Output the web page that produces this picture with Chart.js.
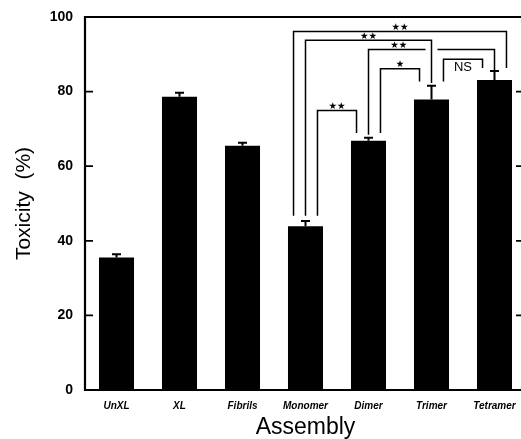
<!DOCTYPE html>
<html>
<head>
<meta charset="utf-8">
<script src="https://cdn.jsdelivr.net/npm/chart.js@4/dist/chart.umd.min.js"></script>
<style>
  html, body { margin: 0; padding: 0; background: #fff; }
  #wrap { width: 521px; height: 439px; overflow: hidden; }
</style>
</head>
<body>
<div id="wrap">
  <canvas id="toxChart" width="530" height="439"></canvas>
</div>
<script>
// data
var categories = ['UnXL', 'XL', 'Fibrils', 'Monomer', 'Dimer', 'Trimer', 'Tetramer'];
var toxicity = [35.5, 78.6, 65.5, 43.9, 66.8, 77.9, 83.1];
var toxicityErr = [0.9, 1.1, 0.8, 1.4, 0.8, 3.7, 2.4];
var yTicks = [0, 20, 40, 60, 80, 100];

// significance brackets: category indices, leg side (-1 left, 0 centre, +1 right), heights in %
var comparisons = [
  { from: 3, to: 6, fromSide: -1, toSide: 1, top: 96.1, fromEnd: 46.7, toEnd: 86.3, label: '★★' },
  { from: 3, to: 5, fromSide: 0, toSide: 0, top: 93.8, fromEnd: 46.7, toEnd: 82.3, label: '★★' },
  { from: 4, to: 6, fromSide: 0, toSide: 0, top: 91.3, fromEnd: 68.4, toEnd: 85.8, label: '★★', labelAt: 4.48, gapAt: 5 },
  { from: 4, to: 5, fromSide: 1, toSide: -1, top: 86.1, fromEnd: 68.9, toEnd: 82.7, label: '★' },
  { from: 5, to: 6, fromSide: 1, toSide: -1, top: 88.7, fromEnd: 82.7, toEnd: 86.3, label: 'NS', inside: true },
  { from: 3, to: 4, fromSide: 1, toSide: -1, top: 74.9, fromEnd: 46.7, toEnd: 68.9, label: '★★' }
];

var FONT = '"Liberation Sans", Arial, Helvetica, sans-serif';

var extras = {
  id: 'extras',
  afterDatasetsDraw: function (chart) {
    var ctx = chart.ctx;
    var xs = chart.scales.x, ys = chart.scales.y;
    var area = chart.chartArea;
    var catW = xs.getPixelForValue(1) - xs.getPixelForValue(0);
    var legOff = catW * 0.19;
    ctx.save();
    ctx.strokeStyle = '#000';
    ctx.fillStyle = '#000';

    // error bars (upper half only shows above black bars)
    ctx.lineWidth = 2;
    var meta = chart.getDatasetMeta(0);
    toxicity.forEach(function (v, i) {
      var x = meta.data[i].x;
      var yTop = ys.getPixelForValue(v + toxicityErr[i]);
      ctx.beginPath();
      ctx.moveTo(x, ys.getPixelForValue(v));
      ctx.lineTo(x, yTop);
      ctx.moveTo(x - 4.5, yTop);
      ctx.lineTo(x + 4.5, yTop);
      ctx.stroke();
    });

    // frame
    ctx.lineWidth = 2.2;
    ctx.beginPath();
    ctx.moveTo(area.left, area.top);
    ctx.lineTo(area.right, area.top);
    ctx.lineTo(area.right, area.bottom);
    ctx.lineTo(area.left, area.bottom);
    ctx.closePath();
    ctx.stroke();

    // inward ticks
    ctx.lineWidth = 1.8;
    yTicks.forEach(function (t) {
      var y = ys.getPixelForValue(t);
      ctx.beginPath();
      ctx.moveTo(area.left, y);
      ctx.lineTo(area.left + 8, y);
      ctx.moveTo(area.right, y);
      ctx.lineTo(area.right - 10, y);
      ctx.stroke();
    });

    // significance brackets
    ctx.lineWidth = 1.5;
    comparisons.forEach(function (c) {
      var x1 = xs.getPixelForValue(c.from) + c.fromSide * legOff;
      var x2 = xs.getPixelForValue(c.to) + c.toSide * legOff;
      var yt = ys.getPixelForValue(c.top);
      ctx.beginPath();
      ctx.moveTo(x1, ys.getPixelForValue(c.fromEnd));
      ctx.lineTo(x1, yt);
      if (c.gapAt !== undefined) {
        var gx = xs.getPixelForValue(c.gapAt);
        ctx.lineTo(gx - 6, yt);
        ctx.moveTo(gx + 6, yt);
      }
      ctx.lineTo(x2, yt);
      ctx.lineTo(x2, ys.getPixelForValue(c.toEnd));
      ctx.stroke();

      var lx = c.labelAt !== undefined ? xs.getPixelForValue(c.labelAt) : (x1 + x2) / 2;
      ctx.textAlign = 'center';
      ctx.textBaseline = 'middle';
      if (c.inside) {
        ctx.font = '13px ' + FONT;
        ctx.fillText(c.label, lx, yt + 8);
      } else {
        ctx.font = '9.5px "DejaVu Sans"';
        ctx.fillText(c.label, lx, yt - 4);
      }
    });
    ctx.restore();
  }
};

new Chart(document.getElementById('toxChart').getContext('2d'), {
  type: 'bar',
  data: {
    labels: categories,
    datasets: [{
      data: toxicity,
      backgroundColor: '#000',
      borderWidth: 0,
      barPercentage: 0.556,
      categoryPercentage: 1
    }]
  },
  options: {
    responsive: false,
    animation: false,
    devicePixelRatio: 1,
    layout: { padding: { top: 17, right: 4, left: 0, bottom: 0 } },
    plugins: { legend: { display: false }, tooltip: { enabled: false } },
    scales: {
      x: {
        grid: { display: false },
        border: { display: false },
        afterFit: function (s) { s.height = 49; },
        ticks: {
          color: '#000',
          maxRotation: 0,
          padding: 2,
          font: { family: FONT, size: 10, style: 'italic', weight: 'bold' }
        },
        title: {
          display: true,
          text: 'Assembly',
          color: '#000',
          padding: { top: 0, bottom: 0 },
          font: { family: FONT, size: 23, lineHeight: 1 }
        }
      },
      y: {
        min: 0,
        max: 100,
        grid: { display: false },
        border: { display: false },
        afterFit: function (s) { s.width = 85; },
        ticks: {
          stepSize: 20,
          color: '#000',
          padding: 4,
          font: { family: FONT, size: 14, weight: 'bold' }
        },
        title: {
          display: true,
          text: 'Toxicity  (%)',
          color: '#000',
          padding: { top: 14, bottom: 0 },
          font: { family: FONT, size: 21, lineHeight: 1 }
        }
      }
    }
  },
  plugins: [extras]
});
</script>
</body>
</html>
